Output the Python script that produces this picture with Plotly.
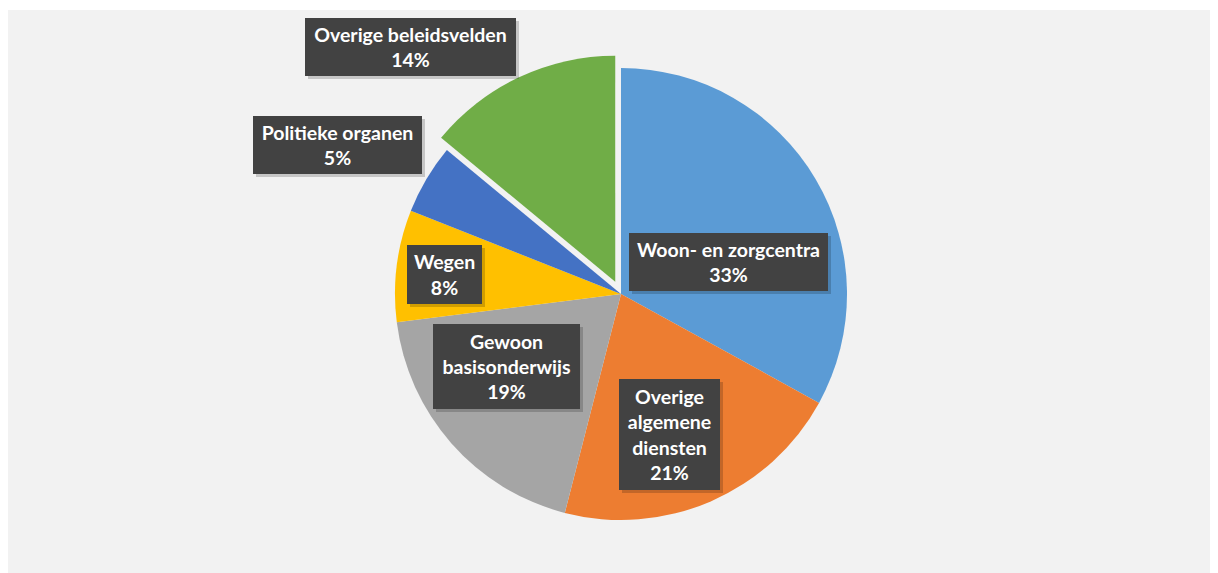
import plotly.graph_objects as go

# ---- data ----
categories = ["Woon- en zorgcentra", "Overige algemene diensten", "Gewoon basisonderwijs",
              "Wegen", "Politieke organen", "Overige beleidsvelden"]
values = [33, 21, 19, 8, 5, 14]
label_texts = ["Woon- en zorgcentra", "Overige<br>algemene<br>diensten", "Gewoon<br>basisonderwijs",
               "Wegen", "Politieke organen", "Overige beleidsvelden"]

# ---- styling / layout config ----
W, H = 1210, 590
OFF = 8  # page body margin offset
colors = ["#5B9BD5", "#ED7D31", "#A5A5A5", "#FFC000", "#4472C4", "#70AD47"]
pulls = [0, 0, 0, 0, 0, 0.06]
center_px = (621, 294)
radius_px = 226
# label box centres (page pixels) and box sizes (w, h)
label_pos = [(728, 262), (669, 434), (506, 366), (445, 274), (337, 145), (410, 47)]
label_box = [(199, 58), (101, 111), (147, 85), (75, 59), (169, 58), (211, 58)]


def fx(px):
    return (px - OFF) / W


def fy(py):
    return 1 - (py - OFF) / H


R = radius_px * (1 + max(pulls))
dom_x = [fx(center_px[0] - R), fx(center_px[0] + R)]
dom_y = [fy(center_px[1] + R), fy(center_px[1] - R)]

fig = go.Figure(go.Pie(
    labels=categories, values=values, sort=False, direction="clockwise", rotation=0,
    marker=dict(colors=colors, line=dict(width=0)),
    pull=pulls, textinfo="none", hoverinfo="label+percent",
    domain=dict(x=dom_x, y=dom_y), showlegend=False,
))

total = sum(values)
annotations = []
pad = 2
font = dict(family="Lato, 'Open Sans', sans-serif", size=19.5, color="white")
for txt, v, (px, py), (bw, bh) in zip(label_texts, values, label_pos, label_box):
    pct = round(100 * v / total)
    text = f"<b>{txt}<br>{pct}%</b>"
    common = dict(x=fx(px), y=fy(py), xref="paper", yref="paper",
                  xanchor="center", yanchor="middle", showarrow=False,
                  width=bw - 2 * pad, height=bh - 2 * pad, borderpad=pad, borderwidth=0,
                  align="center", valign="middle")
    # soft drop shadow box
    annotations.append(dict(text=" ", font=dict(font, color="rgba(0,0,0,0)"),
                            bgcolor="rgba(0,0,0,0.18)", xshift=3, yshift=-3, **common))
    annotations.append(dict(text=text, font=font, bgcolor="#424242", **common))

fig.update_layout(
    width=W, height=H, margin=dict(l=0, r=0, t=0, b=0),
    paper_bgcolor="#F2F2F2", plot_bgcolor="#F2F2F2",
    shapes=[dict(type="rect", xref="paper", yref="paper", x0=0, x1=1,
                 y0=fy(10), y1=1, fillcolor="white", line=dict(width=0), layer="below")],
    annotations=annotations,
)

fig.write_html("out.html")
